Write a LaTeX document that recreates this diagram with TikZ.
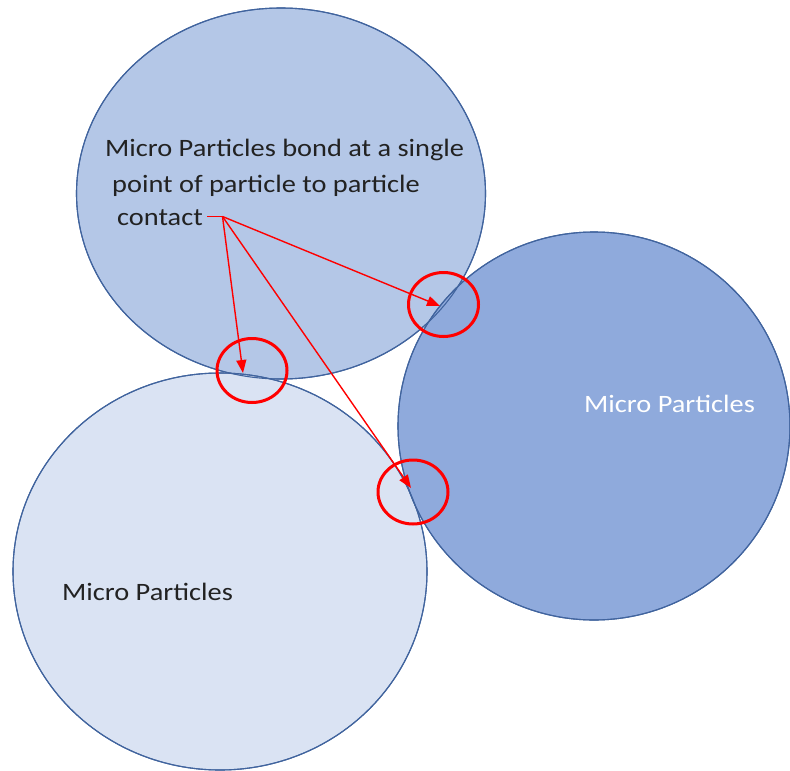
\documentclass[tikz,border=0pt]{standalone}
\usepackage{fontspec}
\setmainfont{Carlito}
\newfontfamily\widefont[FakeStretch=1.135]{Carlito}
\usetikzlibrary{shapes.geometric,arrows.meta}
\definecolor{topfill}{HTML}{B4C7E7}
\definecolor{rightfill}{HTML}{8FAADC}
\definecolor{leftfill}{HTML}{DAE3F3}
\definecolor{edgeblue}{HTML}{41649E}
\definecolor{markred}{HTML}{FF0000}
\definecolor{txt}{HTML}{222222}
\tikzset{
  particle/.style={ellipse, inner sep=0pt, draw=edgeblue, line width=1.1pt},
  ring/.style={ellipse, inner sep=0pt, draw=markred, line width=3pt, minimum width=70pt, minimum height=64pt},
  pointer/.style={draw=markred, line width=1.4pt, -{Triangle[length=13pt,width=10pt]}},
  label/.style={inner sep=0pt, anchor=base west, font=\widefont\fontsize{25}{30}\selectfont, text=txt}
}
\begin{document}
\begin{tikzpicture}[x=1pt,y=-1pt]
\useasboundingbox (0,0) rectangle (790,771);
\node[particle, fill=topfill, minimum width=409pt, minimum height=371pt] (topP) at (281,193.5) {};
\node[particle, fill=leftfill, minimum width=414pt, minimum height=397pt] (leftP) at (220,571.5) {};
\node[particle, fill=rightfill, minimum width=392pt, minimum height=388pt] (rightP) at (594,426) {};
% outlines on top so all edges show
\draw[edgeblue, line width=1.1pt] (topP.center) ellipse [x radius=204.5pt, y radius=185.5pt];
\draw[edgeblue, line width=1.1pt] (leftP.center) ellipse [x radius=207pt, y radius=198.5pt];
\draw[edgeblue, line width=1.1pt] (rightP.center) ellipse [x radius=196pt, y radius=194pt];
% texts
\node[label] (t1) at (105,156) {Micro Particles bond at a single};
\node[label] (t2) at (112,192) {point of particle to particle};
\node[label] (t3) at (117,225) {contact};
\node[label, text=white] (tr) at (584,412) {Micro Particles};
\node[label] (tl) at (62,600) {Micro Particles};
% red rings
\node[ring] (r1) at (443.5,304.5) {};
\node[ring] (r2) at (252,370.5) {};
\node[ring] (r3) at (413,492) {};
% pointers
\coordinate (src0) at (207,216.5);
\coordinate (src) at (222.5,216.5);
\coordinate (tip1) at (243,373);
\coordinate (tip2) at (440,306);
\coordinate (tip3) at (411,488);
\draw[markred, line width=1.4pt] (src0) -- (src);
\draw[pointer] (src) -- (tip1);
\draw[pointer] (src) -- (tip2);
\draw[pointer] (src) -- (tip3);
\end{tikzpicture}
\end{document}
